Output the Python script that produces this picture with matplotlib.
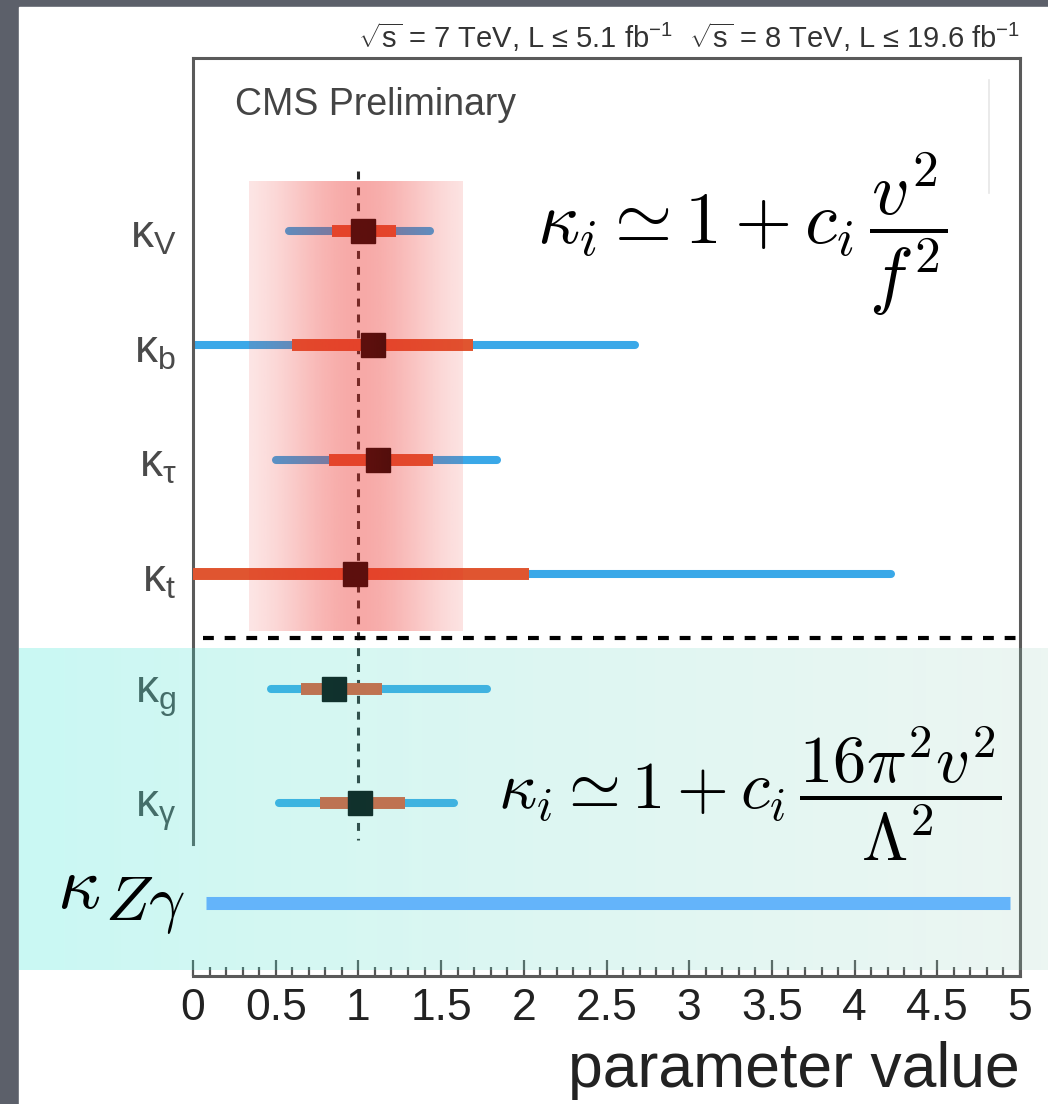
import numpy as np
import matplotlib
matplotlib.use("Agg")
import matplotlib.pyplot as plt
from matplotlib.lines import Line2D
from matplotlib.patches import Rectangle

# Coupling modifiers: best fit, 68% and 95% CL intervals
labels = [r"κ$_{\mathregular{V}}$", r"κ$_{\mathregular{b}}$", r"κ$_{\mathregular{τ}}$",
          r"κ$_{\mathregular{t}}$", r"κ$_{\mathregular{g}}$", r"κ$_{\mathregular{γ}}$"]
best = [1.03, 1.09, 1.12, 0.98, 0.85, 1.01]
lo68 = [0.84, 0.60, 0.82, 0.00, 0.65, 0.77]
hi68 = [1.23, 1.69, 1.45, 2.03, 1.14, 1.28]
lo95 = [0.58, 0.00, 0.50, 0.00, 0.47, 0.52]
hi95 = [1.43, 2.67, 1.84, 4.22, 1.78, 1.58]
kzg_range = [0.08, 4.94]
xticks = [0, 0.5, 1, 1.5, 2, 2.5, 3, 3.5, 4, 4.5, 5]
xticklabels = ["0", "0.5", "1", "1.5", "2", "2.5", "3", "3.5", "4", "4.5", "5"]

W, H = 1048, 1104
plt.rcParams["font.family"] = ["Liberation Sans", "DejaVu Sans"]
plt.rcParams["mathtext.fontset"] = "custom"
plt.rcParams["mathtext.rm"] = "Liberation Sans"

fig = plt.figure(figsize=(W / 100, H / 100), dpi=100)
fig.patch.set_facecolor("#5c606a")
fig.patches.append(Rectangle((19 / W, 0), 1 - 19 / W, 1 - 7 / H,
                             transform=fig.transFigure, color="white", zorder=0))

pos = [193 / W, 1 - 976 / H, (1020 - 193) / W, (976 - 58) / H]
ax = fig.add_axes(pos, zorder=1)
ax.set_facecolor("none")

rows = np.arange(len(labels))
blue, red = "#3aa8e8", "#e05530"
for y, b, l6, h6, l9, h9 in zip(rows, best, lo68, hi68, lo95, hi95):
    ax.plot([l9, h9], [y, y], color=blue, lw=5.8, solid_capstyle="round", zorder=2)
    ax.plot([l6, h6], [y, y], color=red, lw=8.6, solid_capstyle="butt", zorder=3)
    ax.plot([b], [y], marker="s", ms=17, color="black", zorder=4)

# SM expectation
ax.plot([1, 1], [-0.52, 5.32], color="#2a2a2a", lw=2.2, dashes=(2.6, 2.6), zorder=1.5)

# glow band around the SM value
gx = np.linspace(0.34, 1.63, 400)
galpha = 0.06 + 0.34 * np.exp(-((gx - 1.0) / 0.50) ** 2)
glow = np.zeros((1, gx.size, 4))
glow[..., 0], glow[..., 1], glow[..., 2] = 236 / 255, 40 / 255, 34 / 255
glow[..., 3] = galpha
ax.imshow(glow, extent=[0.34, 1.63, 3.50, -0.43], aspect="auto",
          interpolation="bilinear", zorder=6)

# separator between tree-level and loop couplings
ax.plot([0.06, 5.03], [3.56, 3.56], color="black", lw=3.0, dashes=(2.6, 2.6),
        clip_on=False, zorder=7)

ax.set_xlim(0, 5)
ax.set_ylim(6.51, -1.51)
ax.set_yticks(rows)
ax.set_yticklabels(labels, fontsize=33, color="#4a4a4a")
ax.tick_params(axis="y", length=0, pad=12)
ax.set_xticks(xticks)
ax.set_xticklabels(xticklabels, fontsize=32, color="#222222")
ax.set_xticks(np.arange(0, 5.001, 0.1), minor=True)
ax.tick_params(axis="x", which="both", direction="in", top=False, color="#555555",
               width=1.6, pad=9)
ax.tick_params(axis="x", which="major", length=11.5)
ax.tick_params(axis="x", which="minor", length=6.5)
for s in ax.spines.values():
    s.set_color("#5a5a5a")
    s.set_linewidth(2.2)
ax.spines["left"].set_bounds(5.36, -1.51)

# translucent highlight over the loop-induced couplings
ov = fig.add_axes([19 / W, 1 - 970 / H, 1 - 19 / W, (970 - 648) / H], zorder=3)
ov.set_axis_off()
t = np.linspace(0, 1, 300)
c_left = np.array([40, 228, 208]) / 255
c_right = np.array([150, 205, 185]) / 255
shade = np.zeros((1, t.size, 4))
shade[0, :, :3] = (1 - t)[:, None] * c_left + t[:, None] * c_right
shade[0, :, 3] = 0.25 - 0.07 * t
ov.imshow(shade, extent=[0, 1, 0, 1], aspect="auto", interpolation="bilinear")
ov.set_xlim(0, 1)
ov.set_ylim(0, 1)

# layer above the highlight
top = fig.add_axes(pos, zorder=5)
top.set_axis_off()
top.set_facecolor("none")
top.set_xlim(0, 5)
top.set_ylim(6.51, -1.51)
top.plot(kzg_range, [5.87, 5.87], color="#64b4fa", lw=9.4, solid_capstyle="butt")

fig.text(57 / W, 1 - 889 / H, r"$\kappa$", fontsize=54, math_fontfamily="cm",
         ha="left", va="center", zorder=6)
fig.text(105 / W, 1 - 920 / H, r"$Z\gamma$", fontsize=46, math_fontfamily="cm",
         ha="left", va="baseline", zorder=6)
fig.text(537 / W, 1 - 234 / H, r"$\kappa_i \simeq 1 + c_i\,\dfrac{v^2}{f^2}$",
         fontsize=53, math_fontfamily="cm", ha="left", va="center", zorder=6)
fig.text(498 / W, 1 - 794 / H, r"$\kappa_i \simeq 1 + c_i\,\dfrac{16\pi^2 v^2}{\Lambda^2}$",
         fontsize=48, math_fontfamily="cm", ha="left", va="center", zorder=6)

fig.text(1020 / W, 1 - 37 / H,
         r"$\mathregular{\sqrt{s}}$ = 7 TeV, L ≤ 5.1 fb$^{\mathregular{-1}}$  "
         r"$\mathregular{\sqrt{s}}$ = 8 TeV, L ≤ 19.6 fb$^{\mathregular{-1}}$",
         fontsize=21, color="#333333", ha="right", va="center")
fig.text(235 / W, 1 - 105 / H, "CMS Preliminary", fontsize=27, color="#444444",
         ha="left", va="center")
fig.text(1020 / W, 1 - 1070 / H, "parameter value", fontsize=45, color="#222222",
         ha="right", va="center")

fig.lines.append(Line2D([989 / W, 989 / W], [1 - 80 / H, 1 - 193 / H],
                        transform=fig.transFigure, color="#e6e6e6", lw=1.2))

fig.savefig("out.png", dpi=100, facecolor=fig.get_facecolor())
